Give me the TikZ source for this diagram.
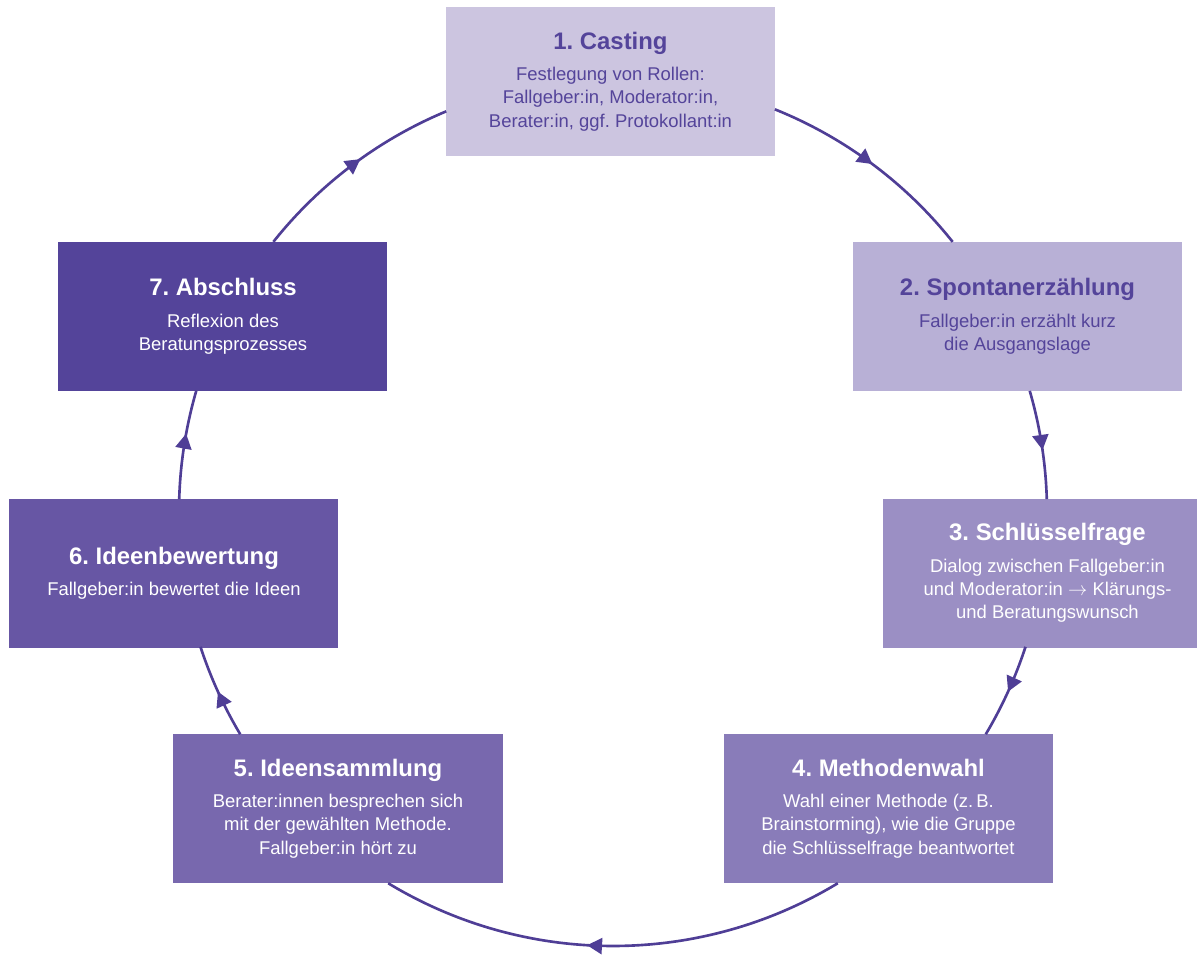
\documentclass[tikz,border=0pt]{standalone}
\usepackage{fontspec}
\setmainfont{Liberation Sans}
\usetikzlibrary{arrows.meta,decorations.markings}

% fills get darker round the cycle
\definecolor{stageA}{HTML}{CCC5E0}
\definecolor{stageB}{HTML}{B8B0D6}
\definecolor{stageC}{HTML}{9B8FC4}
\definecolor{stageD}{HTML}{897CB9}
\definecolor{stageE}{HTML}{7868AE}
\definecolor{stageF}{HTML}{6756A4}
\definecolor{stageG}{HTML}{54449A}
\definecolor{stagetext}{HTML}{54449A}
\definecolor{cycleline}{HTML}{4F3E96}

\newcommand{\stagetitle}[1]{{\fontsize{13.6}{16}\selectfont\bfseries #1}}

\begin{document}
\frenchspacing
\begin{tikzpicture}[
		stage/.style = {rectangle, inner sep=0pt, minimum width=6.58cm, minimum height=2.98cm,
				align=center, font=\fontsize{10.5}{13.3}\selectfont},
		flow/.style = {cycleline, line width=1.5pt, postaction={decorate},
				decoration={markings, mark=at position #1 with {\arrow{Triangle[length=3mm,width=3.2mm]}}}}
	]

	\useasboundingbox (-12.26,-8.84) rectangle (11.68,10.24);

	\node[stage, fill=stageA, text=stagetext] (casting) at (-0.05,8.61)
		{\stagetitle{1. Casting}\\[4.5pt]Festlegung von Rollen:\\Fallgeber:in, Moderator:in,\\Berater:in, ggf. Protokollant:in};
	\node[stage, fill=stageB, text=stagetext] (spontan) at (8.09,3.91)
		{\stagetitle{2. Spontanerzählung}\\[4.5pt]Fallgeber:in erzählt kurz\\die Ausgangslage};
	\node[stage, fill=stageC, text=white] (frage) at (8.69,-1.22)
		{\stagetitle{3. Schlüsselfrage}\\[4.5pt]Dialog zwischen Fallgeber:in\\und Moderator:in $\rightarrow$ Klärungs-\\und Beratungswunsch};
	\node[stage, fill=stageD, text=white] (methode) at (5.51,-5.93)
		{\stagetitle{4. Methodenwahl}\\[4.5pt]Wahl einer Methode (z.\,B.\\Brainstorming), wie die Gruppe\\die Schlüsselfrage beantwortet};
	\node[stage, fill=stageE, text=white] (sammlung) at (-5.50,-5.93)
		{\stagetitle{5. Ideensammlung}\\[4.5pt]Berater:innen besprechen sich\\mit der gewählten Methode.\\Fallgeber:in hört zu};
	\node[stage, fill=stageF, text=white] (bewertung) at (-8.78,-1.22)
		{\stagetitle{6. Ideenbewertung}\\[4.5pt]Fallgeber:in bewertet die Ideen};
	\node[stage, fill=stageG, text=white] (abschluss) at (-7.80,3.91)
		{\stagetitle{7. Abschluss}\\[4.5pt]Reflexion des\\Beratungsprozesses};

	% circle pieces between the boxes, r = 8.68
	\foreach \a/\b/\p in {68.1/38.5/0.5, 16.2/1.7/0.55, -18.1/-30.8/0.5, -58.8/-121.2/0.555,
			-149.2/-161.9/0.5, 178.3/163.8/0.6, 141.5/112.6/0.55}
		\draw[flow=\p] (\a:8.68) arc[start angle=\a, end angle=\b, radius=8.68];

\end{tikzpicture}
\end{document}
